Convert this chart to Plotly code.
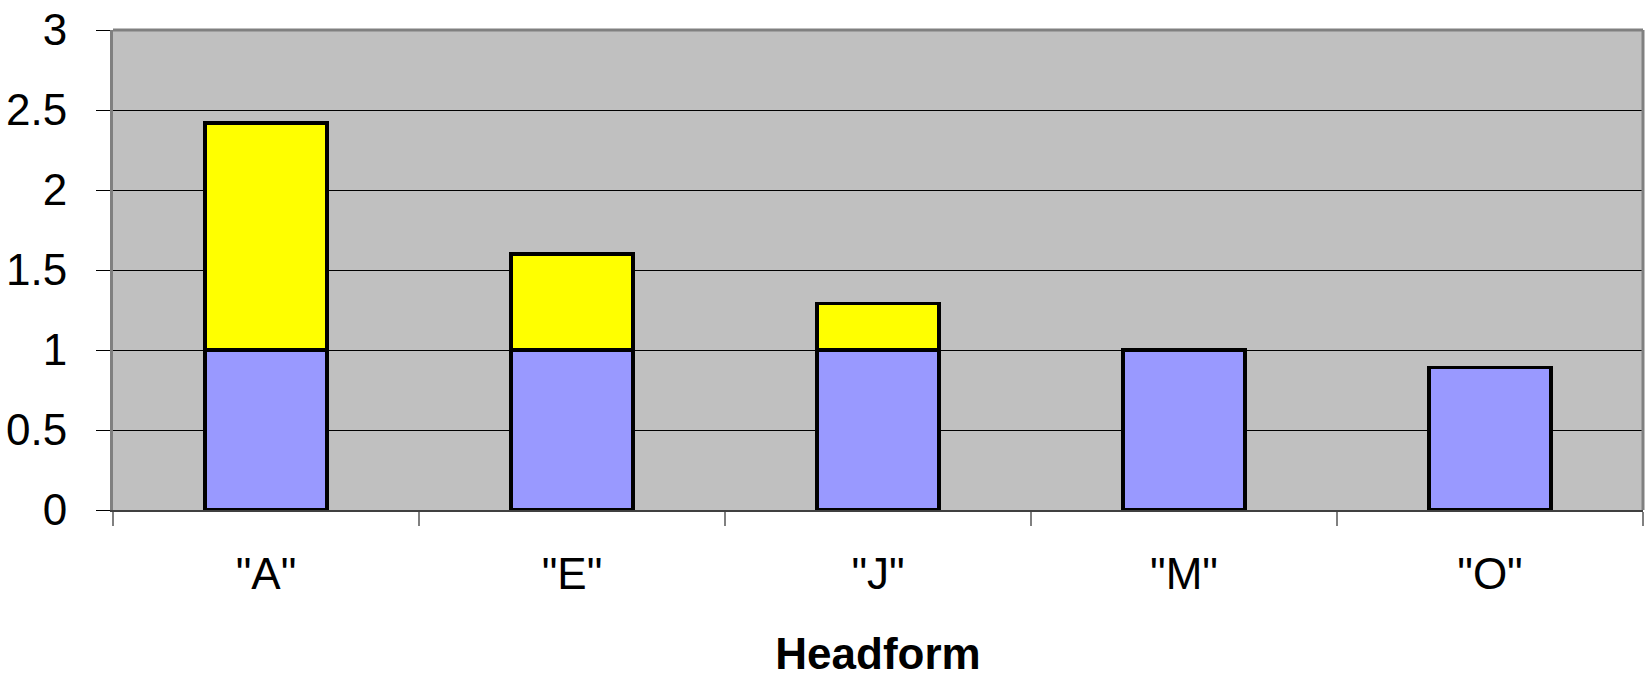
import plotly.graph_objects as go

categories = ['"A"', '"E"', '"J"', '"M"', '"O"']
base_values = [1.0, 1.0, 1.0, 1.0, 0.89]
extra_values = [1.42, 0.6, 0.29, None, None]
y_ticks = [0, 0.5, 1, 1.5, 2, 2.5, 3]

fig = go.Figure()
fig.add_trace(go.Bar(x=categories, y=base_values, marker=dict(color="#9999FF", line=dict(color="black", width=3.5))))
fig.add_trace(go.Bar(x=categories, y=extra_values, marker=dict(color="#FFFF00", line=dict(color="black", width=3.5))))

fig.update_layout(
    width=1646, height=678,
    margin=dict(l=113, r=3, t=30, b=168),
    barmode="stack", bargap=0.6,
    showlegend=False,
    plot_bgcolor="#C0C0C0", paper_bgcolor="white",
    font=dict(family="Liberation Sans, Arial, sans-serif", size=44, color="black"),
    xaxis=dict(
        type="category", tickson="boundaries", ticks="outside", ticklen=14, tickcolor="#808080", tickwidth=2,
        showline=True, linecolor="#404040", linewidth=2, showgrid=False, automargin=False,
        title=dict(text="<b>Headform</b>", font=dict(size=44), standoff=42),
        tickfont=dict(size=44), ticklabelstandoff=24,
    ),
    yaxis=dict(
        range=[0, 3], tickvals=y_ticks, ticks="outside", ticklen=14, tickcolor="black", tickwidth=1,
        showline=True, linecolor="#808080", linewidth=3, automargin=False,
        showgrid=True, gridcolor="black", gridwidth=1, zeroline=False,
        tickfont=dict(size=44), ticklabelstandoff=20,
    ),
    shapes=[
        dict(type="line", xref="paper", yref="paper", x0=0, x1=1, y0=1, y1=1, line=dict(color="#808080", width=3)),
        dict(type="line", xref="paper", yref="paper", x0=1, x1=1, y0=0, y1=1, line=dict(color="#808080", width=3)),
    ],
)

fig.write_html(
    "out.html",
    config={"displayModeBar": False},
    post_script="document.body.style.margin='0';document.body.style.overflow='hidden';",
)
